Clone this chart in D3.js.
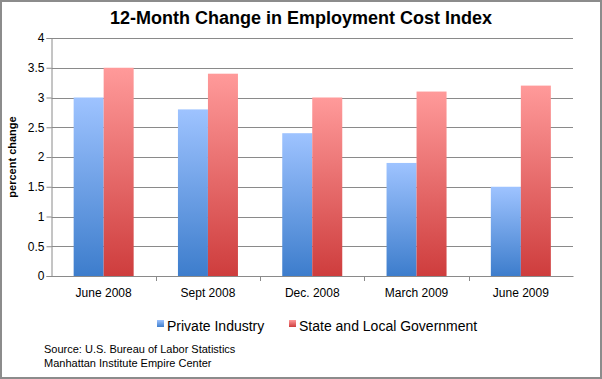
<!DOCTYPE html>
<html>
<head>
<meta charset="utf-8">
<script src="https://cdn.jsdelivr.net/npm/d3@7"></script>
<style>
  body { margin: 0; background: #fff; }
  text { font-family: "Liberation Sans", Arial, sans-serif; fill: #000; }
</style>
</head>
<body>
<div id="chart"></div>
<script>
const categories = ['June 2008', 'Sept 2008', 'Dec. 2008', 'March 2009', 'June 2009'];
const privateIndustry = [3.0, 2.8, 2.4, 1.9, 1.5];
const stateLocal = [3.5, 3.4, 3.0, 3.1, 3.2];
const seriesNames = ['Private Industry', 'State and Local Government'];
const yTicks = [0, 0.5, 1, 1.5, 2, 2.5, 3, 3.5, 4];

const width = 602, height = 379;
const plot = {left: 51.5, right: 573, top: 38, bottom: 276};

const svg = d3.select('#chart').append('svg')
    .attr('width', width)
    .attr('height', height);

// gradients
const defs = svg.append('defs');
const grads = [
    {id: 'gBlue', top: '#9ec3ff', bottom: '#3d7dcc'},
    {id: 'gRed', top: '#ff9a9a', bottom: '#ce3d3d'}
];
grads.forEach(function (g) {
    const lg = defs.append('linearGradient')
        .attr('id', g.id)
        .attr('x1', 0).attr('y1', 0).attr('x2', 0).attr('y2', 1);
    lg.append('stop').attr('offset', '0%').attr('stop-color', g.top);
    lg.append('stop').attr('offset', '100%').attr('stop-color', g.bottom);
});

// frame
svg.append('rect')
    .attr('x', 1).attr('y', 1)
    .attr('width', width - 2).attr('height', height - 2)
    .attr('fill', '#fff')
    .attr('stroke', '#8c8c8c')
    .attr('stroke-width', 2);

const x = d3.scaleBand()
    .domain(categories)
    .range([plot.left, plot.right])
    .paddingInner(0)
    .paddingOuter(0);

const y = d3.scaleLinear()
    .domain([0, 4])
    .range([plot.bottom, plot.top]);

// gridlines
svg.append('g')
    .selectAll('line')
    .data(yTicks.filter(function (d) { return d > 0; }))
    .enter()
    .append('line')
    .attr('x1', plot.left)
    .attr('x2', plot.right)
    .attr('y1', function (d) { return Math.round(y(d)) + 0.5; })
    .attr('y2', function (d) { return Math.round(y(d)) + 0.5; })
    .attr('stroke', '#8a8a8a')
    .attr('stroke-width', 1);

// bars
const groupWidth = 60;
const series = [
    {name: seriesNames[0], values: privateIndustry, fill: 'url(#gBlue)', offset: 0},
    {name: seriesNames[1], values: stateLocal, fill: 'url(#gRed)', offset: 1}
];
series.forEach(function (s) {
    svg.append('g')
        .selectAll('rect')
        .data(s.values)
        .enter()
        .append('rect')
        .attr('x', function (d, i) {
            return x(categories[i]) + x.bandwidth() / 2 - groupWidth / 2 + s.offset * groupWidth / 2;
        })
        .attr('y', function (d) { return y(d); })
        .attr('width', groupWidth / 2)
        .attr('height', function (d) { return y(0) - y(d); })
        .attr('fill', s.fill);
});

// y axis
const yAxis = svg.append('g')
    .attr('transform', `translate(${plot.left},0)`)
    .call(d3.axisLeft(y).tickValues(yTicks).tickSize(5).tickFormat(d3.format('')));
yAxis.select('.domain').attr('stroke', '#8a8a8a');
yAxis.selectAll('.tick line').attr('stroke', '#8a8a8a');
yAxis.selectAll('.tick text')
    .attr('x', -7)
    .style('font-size', '12px')
    .style('font-family', '"Liberation Sans", Arial, sans-serif')
    .attr('fill', '#000');

// x axis
const xAxis = svg.append('g')
    .attr('transform', `translate(0,${plot.bottom})`)
    .call(d3.axisBottom(x).tickSize(0).tickPadding(12));
xAxis.select('.domain').attr('stroke', '#8a8a8a');
xAxis.selectAll('.tick text')
    .style('font-size', '12px')
    .style('font-family', '"Liberation Sans", Arial, sans-serif')
    .attr('fill', '#000');
// category separators
xAxis.append('g')
    .selectAll('line')
    .data(categories.slice(1))
    .enter()
    .append('line')
    .attr('x1', function (d) { return Math.round(x(d)) + 0.5; })
    .attr('x2', function (d) { return Math.round(x(d)) + 0.5; })
    .attr('y1', 0)
    .attr('y2', 5)
    .attr('stroke', '#8a8a8a');

// title
svg.append('text')
    .attr('x', 301)
    .attr('y', 24)
    .attr('text-anchor', 'middle')
    .style('font-size', '18px')
    .style('font-weight', 'bold')
    .text('12-Month Change in Employment Cost Index');

// y label
svg.append('text')
    .attr('transform', `translate(16,${(plot.top + plot.bottom) / 2}) rotate(-90)`)
    .attr('text-anchor', 'middle')
    .style('font-size', '11px')
    .style('font-weight', 'bold')
    .text('percent change');

// legend
const legendItems = [
    {name: seriesNames[0], fill: 'url(#gBlue)', x: 157},
    {name: seriesNames[1], fill: 'url(#gRed)', x: 289}
];
const legend = svg.append('g');
legendItems.forEach(function (d) {
    legend.append('rect')
        .attr('x', d.x)
        .attr('y', 320)
        .attr('width', 7)
        .attr('height', 7)
        .attr('fill', d.fill);
    legend.append('text')
        .attr('x', d.x + 10)
        .attr('y', 331)
        .style('font-size', '14px')
        .text(d.name);
});

// source
svg.append('text')
    .attr('x', 44)
    .attr('y', 353)
    .style('font-size', '11px')
    .text('Source: U.S. Bureau of Labor Statistics');
svg.append('text')
    .attr('x', 44)
    .attr('y', 367)
    .style('font-size', '11px')
    .text('Manhattan Institute Empire Center');
</script>
</body>
</html>
